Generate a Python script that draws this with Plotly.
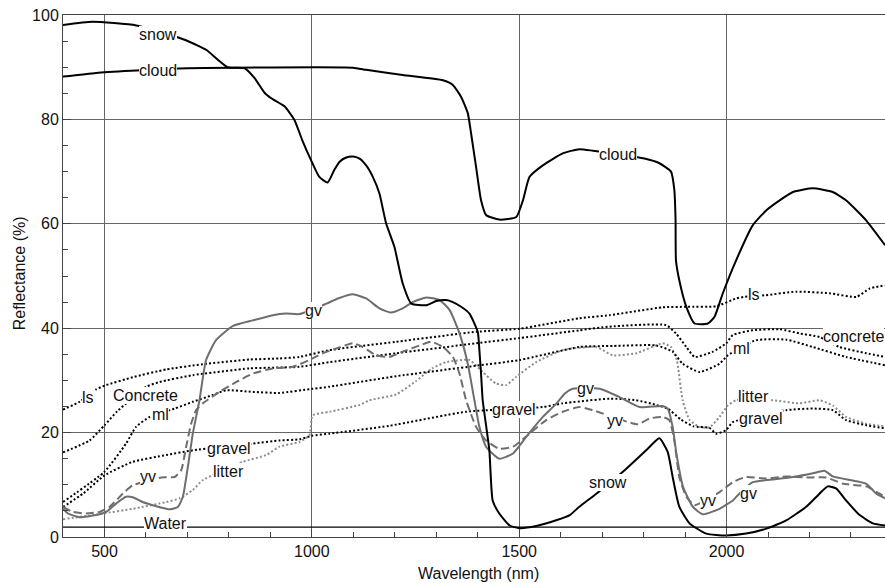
import plotly.graph_objects as go

# ---------------- data (wavelength nm, reflectance %) ----------------
SNOW = [(400, 98.1), (471, 98.7), (577, 98.0), (688, 95.4), (729, 94.0), (746, 93.3), (797, 90.0),
        (838, 89.8), (862, 87.9), (886, 85.1), (903, 84.0), (934, 82.5), (958, 79.9), (977, 76.0),
        (998, 72.2), (1018, 69.0), (1038, 67.9), (1054, 70.3), (1067, 71.9), (1083, 72.7),
        (1099, 72.9), (1115, 72.5), (1131, 71.2), (1147, 69.0), (1163, 65.8), (1179, 60.1),
        (1199, 55.6), (1219, 48.6), (1240, 44.7), (1276, 44.4), (1300, 45.2), (1324, 45.4),
        (1340, 45.0), (1360, 44.1), (1380, 42.8), (1400, 39.3), (1404, 35.8), (1408, 31.3),
        (1412, 26.2), (1428, 16.6), (1436, 7.0), (1452, 4.5), (1477, 2.2), (1501, 1.7),
        (1541, 2.1), (1589, 3.2), (1622, 4.2), (1645, 5.8), (1686, 8.3), (1750, 12.5),
        (1806, 16.6), (1838, 18.9), (1858, 16.3), (1870, 11.5), (1886, 5.8), (1911, 2.6),
        (1951, 0.65), (1999, 0.3), (2047, 0.65), (2096, 1.6), (2144, 3.2), (2192, 5.8),
        (2224, 8.3), (2244, 9.7), (2264, 9.3), (2288, 7.0), (2321, 4.2), (2353, 2.6), (2382, 2.2)]

CLOUD = [(400, 88.2), (480, 88.9), (564, 89.3), (701, 89.8), (1099, 89.9), (1131, 89.5), (1219, 88.5),
         (1316, 87.5), (1340, 86.6), (1360, 84.3), (1376, 81.2), (1384, 77.3), (1396, 70.9),
         (1408, 64.5), (1420, 61.7), (1452, 60.8), (1493, 61.3), (1509, 64.5), (1525, 69.0),
         (1557, 71.2), (1605, 73.5), (1645, 74.3), (1678, 74.0), (1802, 72.5), (1838, 71.6),
         (1866, 70.0), (1874, 66.5), (1877, 60.7), (1878, 53.0), (1886, 49.2), (1903, 44.1),
         (1923, 40.9), (1955, 40.9), (1971, 42.2), (1991, 46.7), (2023, 53.0), (2063, 59.7),
         (2096, 62.6), (2128, 64.5), (2160, 66.1), (2208, 66.8), (2256, 66.1), (2288, 64.5),
         (2336, 60.7), (2382, 55.9)]

GV = [(400, 5.4), (412, 4.5), (440, 3.8), (480, 4.2), (504, 4.8), (528, 6.4), (552, 7.7), (568, 7.6),
      (592, 6.7), (625, 5.9), (657, 5.3), (677, 5.75), (689, 7.7), (701, 13.4), (713, 19.8),
      (729, 26.2), (745, 33.9), (769, 37.7), (809, 40.4), (858, 41.5), (906, 42.5), (938, 42.8),
      (970, 42.7), (1035, 44.7), (1063, 45.7), (1099, 46.5), (1131, 45.7), (1163, 43.8),
      (1191, 43.0), (1219, 43.8), (1243, 45.0), (1276, 45.9), (1308, 45.4), (1332, 43.5),
      (1356, 39.0), (1376, 33.2), (1392, 26.2), (1404, 21.1), (1420, 17.3), (1452, 15.0),
      (1485, 16.0), (1517, 19.2), (1557, 23.0), (1589, 25.5), (1610, 27.5), (1629, 28.4),
      (1694, 28.4), (1742, 26.8), (1790, 24.9), (1846, 25.1), (1858, 24.6), (1870, 21.1),
      (1879, 16.0), (1895, 9.6), (1919, 5.75), (1943, 4.35), (1983, 5.4), (2015, 7.0),
      (2027, 8.0), (2063, 10.5), (2096, 10.9), (2160, 11.5), (2208, 12.2), (2236, 12.7),
      (2256, 11.6), (2337, 10.2), (2361, 8.3), (2382, 7.4)]

YV = [(400, 5.75), (424, 4.8), (456, 4.5), (488, 4.8), (512, 5.75), (544, 8.3), (568, 9.9), (637, 11.4),
      (669, 11.5), (685, 12.8), (697, 17.3), (709, 21.7), (721, 24.3), (737, 25.6), (777, 27.8),
      (818, 29.7), (858, 31.3), (906, 32.3), (954, 32.6), (994, 33.9), (1026, 35.2), (1059, 36.1),
      (1099, 37.1), (1123, 36.4), (1155, 34.8), (1187, 34.5), (1219, 35.5), (1260, 36.7),
      (1288, 37.4), (1316, 36.4), (1340, 34.5), (1356, 31.3), (1372, 26.2), (1396, 21.1),
      (1420, 18.5), (1452, 16.9), (1485, 17.3), (1525, 19.8), (1565, 22.4), (1605, 24.0),
      (1645, 24.9), (1677, 24.3), (1786, 21.6), (1814, 22.7), (1846, 23.0), (1862, 22.4),
      (1874, 18.5), (1886, 11.5), (1903, 7.7), (1923, 6.1), (1983, 8.6), (2015, 10.5),
      (2047, 11.5), (2096, 11.2), (2144, 11.6), (2192, 11.4), (2240, 11.4), (2281, 10.2),
      (2337, 9.7), (2369, 8.3), (2382, 7.7)]

LS = [(400, 24.4), (440, 25.9), (480, 28.3), (504, 29.1), (568, 30.6), (649, 32.1), (737, 33.1),
      (850, 34.0), (922, 34.2), (970, 34.5), (1043, 35.8), (1203, 37.4), (1396, 39.3), (1501, 39.9),
      (1645, 41.9), (1718, 42.5), (1846, 44.0), (1903, 44.1), (1975, 44.2), (2023, 45.7),
      (2043, 46.0), (2092, 46.3), (2168, 47.0), (2248, 46.7), (2313, 46.0), (2345, 47.6),
      (2382, 48.2)]

CONCRETE = [(400, 16.2), (464, 18.5), (500, 21.4), (531, 24.1), (601, 28.8), (633, 29.7), (713, 31.0),
            (850, 32.3), (970, 32.6), (1043, 33.5), (1203, 35.2), (1396, 37.1), (1501, 38.1),
            (1645, 39.6), (1718, 40.3), (1854, 40.6), (1878, 39.0), (1903, 36.4), (1923, 34.5),
            (1967, 35.5), (1999, 37.1), (2015, 38.7), (2063, 39.6), (2128, 39.8), (2176, 39.0),
            (2224, 38.3), (2272, 36.4), (2337, 35.2), (2382, 34.5)]

ML = [(400, 6.7), (500, 12.5), (552, 17.9), (576, 21.1), (609, 23.0), (669, 24.6), (713, 25.9),
      (761, 27.2), (793, 28.1), (858, 27.8), (922, 27.6), (1002, 28.4), (1043, 28.8), (1203, 30.8),
      (1396, 32.8), (1501, 33.9), (1645, 36.4), (1726, 36.6), (1830, 36.7), (1870, 35.5),
      (1894, 33.2), (1935, 31.6), (1983, 33.2), (2003, 34.8), (2071, 37.7), (2144, 37.8),
      (2208, 36.4), (2288, 34.5), (2382, 32.9)]

GRAVEL = [(400, 5.75), (448, 8.3), (500, 11.8), (568, 14.4), (649, 15.7), (713, 16.6), (858, 17.9),
          (922, 18.5), (970, 18.7), (1000, 19.4), (1043, 19.8), (1187, 21.3), (1372, 24.0),
          (1557, 24.9), (1605, 25.6), (1718, 26.5), (1782, 26.2), (1830, 25.3), (1858, 24.6),
          (1890, 22.5), (1920, 21.2), (1959, 20.9), (1975, 19.8), (1999, 20.5), (2015, 22.0),
          (2144, 24.3), (2208, 24.6), (2256, 24.3), (2288, 22.4), (2337, 21.4), (2382, 20.8)]

LITTER = [(400, 3.4), (496, 4.5), (568, 5.4), (649, 6.7), (681, 7.4), (713, 9.0), (737, 10.9),
          (834, 14.4), (890, 15.7), (922, 17.3), (970, 18.2), (994, 19.5), (1002, 23.3),
          (1043, 24.0), (1115, 25.3), (1139, 26.2), (1203, 27.3), (1250, 29.8), (1290, 32.3),
          (1324, 33.5), (1380, 33.9), (1412, 31.6), (1444, 29.4), (1469, 29.1), (1493, 30.7),
          (1541, 33.5), (1605, 35.8), (1686, 36.4), (1726, 34.8), (1782, 35.2), (1846, 37.1),
          (1866, 36.4), (1880, 33.9), (1894, 26.2), (1911, 22.4), (1935, 21.1), (1959, 21.0),
          (1983, 23.0), (2003, 25.2), (2023, 26.2), (2112, 26.2), (2176, 25.6), (2224, 26.2),
          (2256, 25.2), (2288, 23.0), (2337, 21.7), (2382, 21.2)]

WATER = [(400, 1.9), (2382, 1.9)]

# inline labels: (text, wavelength, reflectance)
LABELS = [("snow", 628, 96.3), ("cloud", 628, 89.3), ("cloud", 1739, 73.2), ("gv", 1004, 43.3),
          ("ls", 461, 26.7), ("Concrete", 600, 27.2), ("ml", 635, 23.5), ("gravel", 800, 17.0),
          ("yv", 605, 11.6), ("litter", 799, 12.5), ("Water", 647, 2.5), ("gravel", 1487, 24.4),
          ("gv", 1660, 28.4), ("yv", 1730, 22.4), ("snow", 1715, 10.5), ("yv", 1955, 7.0),
          ("gv", 2053, 8.4), ("ls", 2065, 46.5), ("ml", 2037, 36.1), ("concrete", 2305, 38.4),
          ("litter", 2065, 26.9), ("gravel", 2083, 22.7)]

X_TICKS = [500, 1000, 1500, 2000]
Y_TICKS = [0, 20, 40, 60, 80, 100]

# ---------------- styles ----------------
FONT = "Arial, 'Liberation Sans', Helvetica, sans-serif"
BLACK = "#000000"
GRAY = "#6e6e6e"
LGRAY = "#8c8c8c"
DOT = "2px,2.2px"
DASH = "8px,4px"

fig = go.Figure()


def add(series, color, width, dash=None, shape="spline"):
    wl, val = zip(*series)
    fig.add_trace(go.Scatter(
        x=list(wl), y=list(val), mode="lines",
        line=dict(color=color, width=width, dash=dash, shape=shape, smoothing=0.5),
        hoverinfo="skip", showlegend=False))


add(WATER, BLACK, 1.3, shape="linear")
add(LITTER, LGRAY, 2, DOT)
add(GRAVEL, BLACK, 2, DOT)
add(ML, BLACK, 2, DOT)
add(CONCRETE, BLACK, 2, DOT)
add(LS, BLACK, 2, DOT)
add(YV, GRAY, 2, DASH)
add(GV, GRAY, 2)
add(CLOUD, BLACK, 2)
add(SNOW, BLACK, 2)

annotations = []
for text, x, y in LABELS:
    annotations.append(dict(x=x, y=y, xref="x", yref="y", text=text, showarrow=False,
                            font=dict(family=FONT, size=16, color="#111"),
                            bgcolor="white", borderpad=0, borderwidth=0))

annotations.append(dict(x=0.505, y=-0.069, xref="paper", yref="paper", text="Wavelength (nm)",
                        showarrow=False, font=dict(family=FONT, size=16, color="#111"),
                        xanchor="center", yanchor="middle"))
annotations.append(dict(x=-0.053, y=0.506, xref="paper", yref="paper", text="Reflectance (%)",
                        textangle=-90, showarrow=False, font=dict(family=FONT, size=16, color="#111"),
                        xanchor="center", yanchor="middle"))

fig.update_layout(
    width=885, height=583,
    margin=dict(l=63, r=0, t=15, b=46),
    paper_bgcolor="white", plot_bgcolor="white",
    showlegend=False,
    font=dict(family=FONT, size=16, color="#111"),
    annotations=annotations,
)

fig.update_xaxes(
    range=[400, 2382], tickmode="array", tickvals=X_TICKS,
    ticks="inside", ticklen=8, tickcolor="#444", tickwidth=1,
    showgrid=True, gridcolor="#666666", gridwidth=1,
    showline=True, linecolor="#444", linewidth=1, mirror=True,
    zeroline=False, tickfont=dict(family=FONT, size=16, color="#111"),
    minor=dict(tick0=0, dtick=100, ticks="inside", ticklen=5, tickcolor="#444", showgrid=False),
)
fig.update_yaxes(
    range=[0, 100], tickmode="array", tickvals=Y_TICKS,
    ticks="inside", ticklen=8, tickcolor="#444", tickwidth=1,
    showgrid=True, gridcolor="#666666", gridwidth=1,
    showline=True, linecolor="#444", linewidth=1,
    zeroline=False, tickfont=dict(family=FONT, size=16, color="#111"),
    minor=dict(tick0=0, dtick=5, ticks="inside", ticklen=5, tickcolor="#444", showgrid=False),
)

fig.write_html("out.html")
